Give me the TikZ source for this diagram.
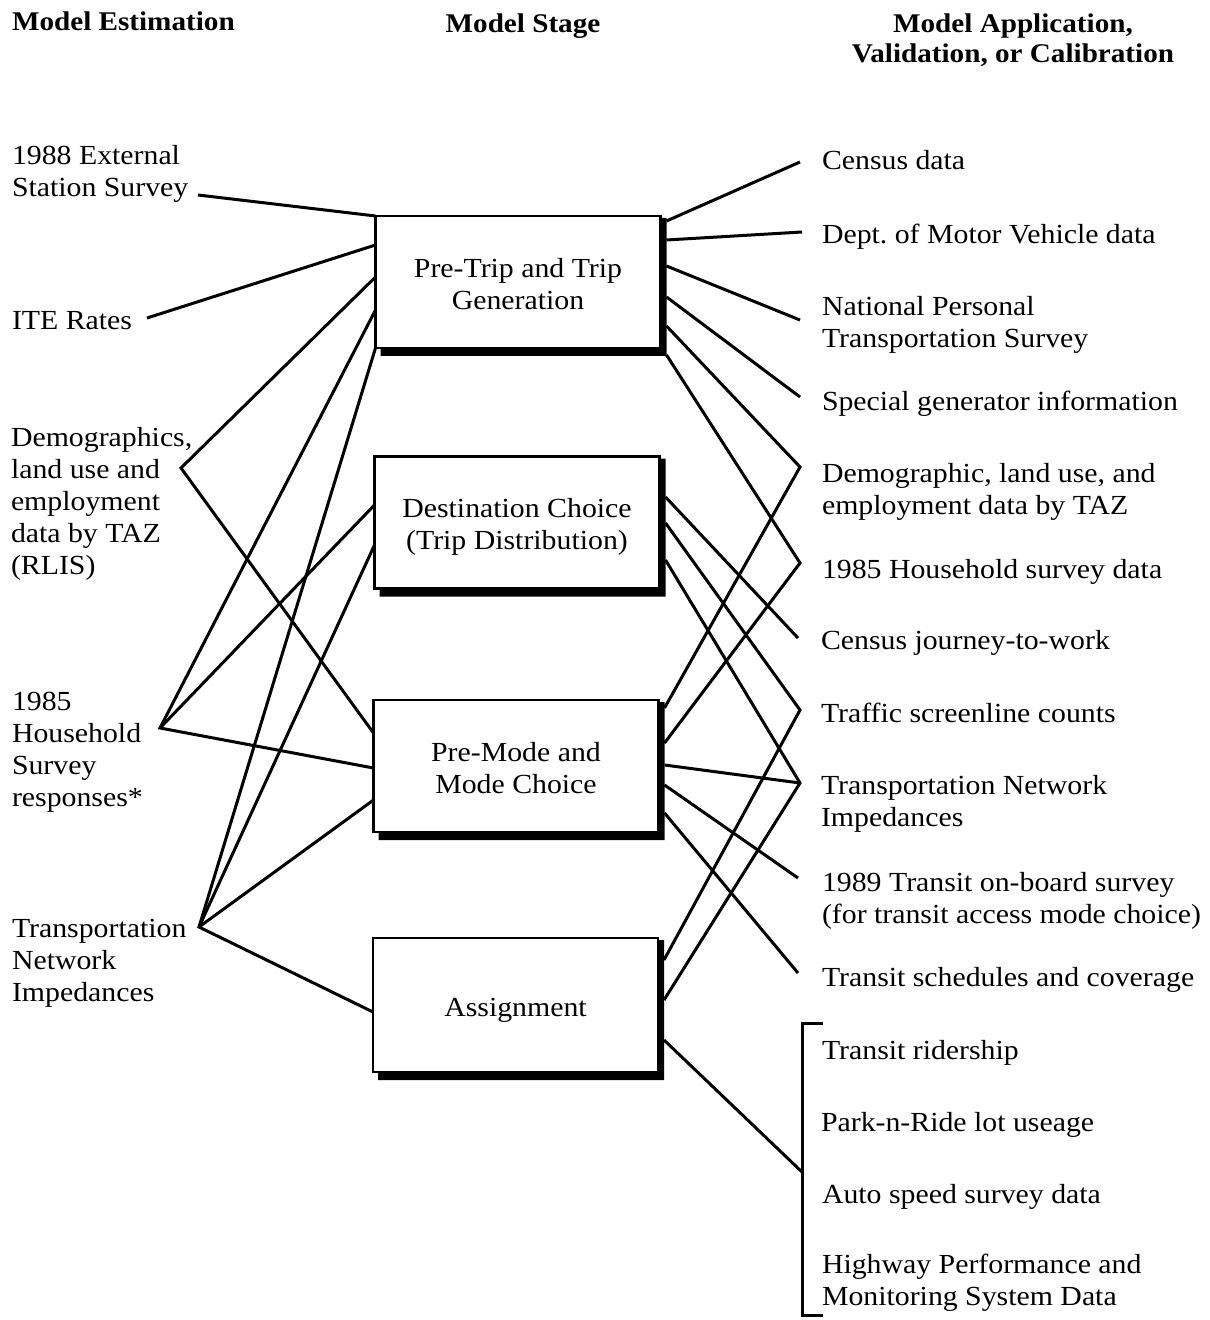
\documentclass[tikz,border=0pt]{standalone}
\usepackage{fontspec}
\setmainfont{Liberation Serif}[FakeStretch=1.08]
\usetikzlibrary{calc}
% first-line strut inside the stage boxes, a little taller than \strut
\newcommand\stagestrut{\rule{0pt}{16.2pt}}
\begin{document}
\begin{tikzpicture}[x=0.5pt,y=-0.5pt,
  txt/.style={inner sep=0pt, outer sep=0pt, align=left, anchor=west, yshift=-1.5pt,
    font=\fontsize{13.8}{16}\selectfont},
  head/.style={inner sep=0pt, outer sep=0pt, align=center, yshift=-1pt,
    font=\fontsize{13.5}{15}\selectfont\bfseries},
  stage/.style={draw, line width=1.3pt, fill=white, inner sep=0pt, outer sep=0pt,
    minimum width=142.5pt, minimum height=66pt, align=center,
    font=\fontsize{13.8}{16}\selectfont},
  link/.style={line width=1.5pt}]
\useasboundingbox (0,0) rectangle (1209,1320);

% column headings
\node[head, anchor=west] (h-est) at (12,23) {\strut Model Estimation};
\node[head] (h-stage) at (523,25) {\strut Model Stage};
\node[head] (h-app) at (1013,40) {\strut Model Application,\\\strut Validation, or Calibration};

% model stages
\node[stage] (gen)  at (518,282)   {\stagestrut Pre-Trip and Trip\\\strut Generation};
\node[stage] (dist) at (517,522.5) {\stagestrut Destination Choice\\\strut (Trip Distribution)};
\node[stage] (mode) at (516,766)   {\stagestrut Pre-Mode and\\\strut Mode Choice};
\node[stage, minimum height=67pt] (asgn) at (515.5,1005) {\stagestrut Assignment\strut};

% heavy shadow along the right and bottom edges of each stage box
\foreach \b in {gen,dist,mode,asgn}
  \fill ($(\b.north east)+(0,2)$) -- ($(\b.north east)+(6,2)$)
     -- ($(\b.south east)+(6,8)$) -- ($(\b.south west)+(5,8)$)
     -- ($(\b.south west)+(5,0)$) -- (\b.south east) -- cycle;

% estimation inputs
\node[txt] (t-ext)  at (12,171.5) {\strut 1988 External\\\strut Station Survey};
\node[txt] (t-ite)  at (12,320)   {\strut ITE Rates};
\node[txt] (t-demo) at (11,501)   {\strut Demographics,\\\strut land use and\\\strut employment\\\strut data by TAZ\\\strut (RLIS)};
\node[txt] (t-hh)   at (12,749.5) {\strut 1985\\\strut Household\\\strut Survey\\\strut responses*};
\node[txt] (t-tn)   at (12,960)   {\strut Transportation\\\strut Network\\\strut Impedances};

% application, validation and calibration data
\node[txt] (r-census)  at (822,160)  {\strut Census data};
\node[txt] (r-dmv)     at (822,234)  {\strut Dept.\ of Motor Vehicle data};
\node[txt] (r-npts)    at (822,322)  {\strut National Personal\\\strut Transportation Survey};
\node[txt] (r-special) at (822,401)  {\strut Special generator information};
\node[txt] (r-demo)    at (822,489)  {\strut Demographic, land use, and\\\strut employment data by TAZ};
\node[txt] (r-hh)      at (822,569)  {\strut 1985 Household survey data};
\node[txt] (r-jtw)     at (821,640)  {\strut Census journey-to-work};
\node[txt] (r-traffic) at (821,713)  {\strut Traffic screenline counts};
\node[txt] (r-tni)     at (821,801)  {\strut Transportation Network\\\strut Impedances};
\node[txt] (r-onboard) at (822,898)  {\strut 1989 Transit on-board survey\\\strut (for transit access mode choice)};
\node[txt] (r-sched)   at (822,977)  {\strut Transit schedules and coverage};
\node[txt] (r-ride)    at (822,1050) {\strut Transit ridership};
\node[txt] (r-park)    at (821,1122) {\strut Park-n-Ride lot useage};
\node[txt] (r-speed)   at (822,1194) {\strut Auto speed survey data};
\node[txt] (r-hpms)    at (822,1280) {\strut Highway Performance and\\\strut Monitoring System Data};

% connector ends beside the texts
\coordinate (ext)     at (198,195);
\coordinate (ite)     at (147,318);
\coordinate (demoL)   at (181,468);
\coordinate (hhL)     at (160,728);
\coordinate (tnL)     at (199,927);
\coordinate (census)  at (800,162);
\coordinate (dmv)     at (802,232);
\coordinate (npts)    at (800,320);
\coordinate (special) at (800,397);
\coordinate (demoR)   at (800,467);
\coordinate (hhR)     at (800,563);
\coordinate (jtw)     at (798,638);
\coordinate (traffic) at (800,710);
\coordinate (tniR)    at (800,783);
\coordinate (onboard) at (798,878);
\coordinate (sched)   at (798,973);
\coordinate (obs)     at (802,1172);
\coordinate (brT)     at (823,1023);
\coordinate (brB)     at (823,1315);

% bracket grouping the observed data
\draw[link] (brT) -- (brT -| obs) -- (brB -| obs) -- (brB);

% left side: estimation inputs to stages
\draw[link] (ext) -- (gen.north west);
\draw[link] (ite) -- ($(gen.north west)+(0,29)$);
\draw[link] ($(gen.north west)+(0,61)$) -- (demoL) -- ($(mode.north west)+(0,33)$);
\draw[link] ($(gen.north west)+(0,94)$) -- (hhL) -- ($(mode.north west)+(0,68)$);
\draw[link] (hhL) -- ($(dist.north west)+(0,48.5)$);
\draw[link] (gen.south west) -- (tnL) -- ($(asgn.north west)+(0,74)$);
\draw[link] (tnL) -- ($(dist.north west)+(0,88.5)$);
\draw[link] (tnL) -- ($(mode.north west)+(0,100)$);

% right side: stages to application data
\draw[link] ($(gen.north east)+(6,5)$)   -- (census);
\draw[link] ($(gen.north east)+(6,24)$)  -- (dmv);
\draw[link] ($(gen.north east)+(6,50)$)  -- (npts);
\draw[link] ($(gen.north east)+(6,81)$)  -- (special);
\draw[link] ($(gen.north east)+(6,110)$) -- (demoR) -- ($(mode.north east)+(6,8)$);
\draw[link] ($(gen.south east)+(6,7)$)   -- (hhR) -- ($(mode.north east)+(6,43)$);
\draw[link] ($(dist.north east)+(6,40.5)$) -- (jtw);
\draw[link] ($(dist.north east)+(6,66.5)$) -- (traffic) -- ($(asgn.north east)+(6,22)$);
\draw[link] ($(dist.north east)+(6,103.5)$) -- (tniR) -- ($(asgn.north east)+(6,62)$);
\draw[link] ($(mode.north east)+(6,65)$)  -- (tniR);
\draw[link] ($(mode.north east)+(6,85)$)  -- (onboard);
\draw[link] ($(mode.north east)+(6,113)$) -- (sched);
\draw[link] ($(asgn.north east)+(6,102)$) -- (obs);
\end{tikzpicture}
\end{document}
